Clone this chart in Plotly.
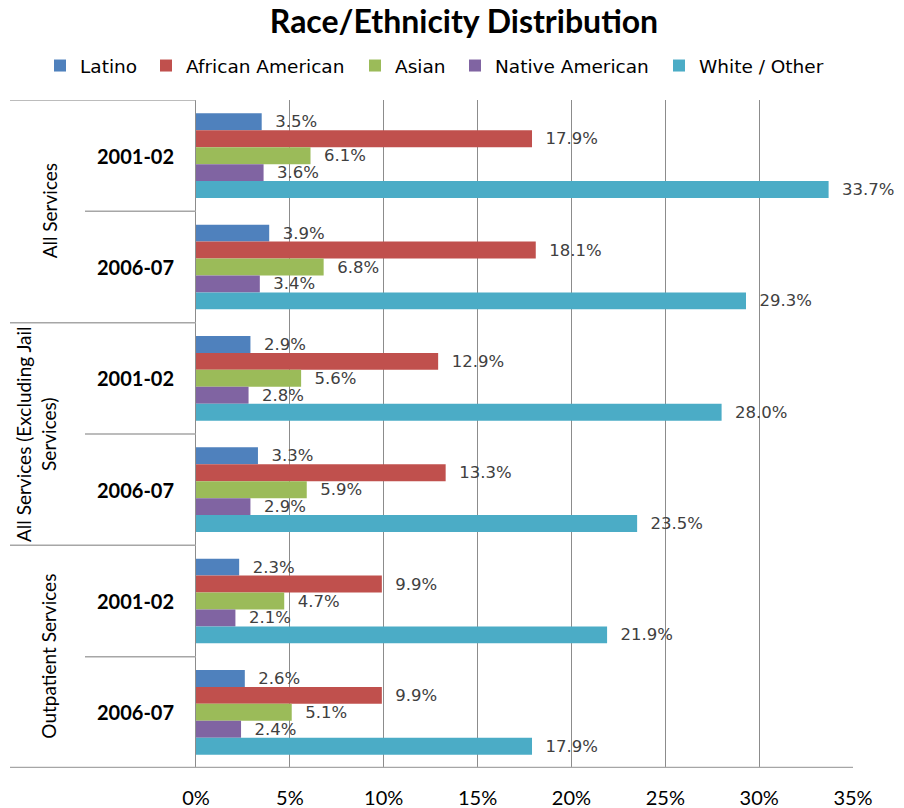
import plotly.graph_objects as go

# data
groups = ["All Services", "All Services (Excluding Jail<br>Services)", "Outpatient Services"]
periods = ["2001-02", "2006-07"]
series_names = ["Latino", "African American", "Asian", "Native American", "White / Other"]
series_colors = ["#4F81BD", "#C0504D", "#9BBB59", "#8064A2", "#4BACC6"]

latino = [3.5, 3.9, 2.9, 3.3, 2.3, 2.6]
african_american = [17.9, 18.1, 12.9, 13.3, 9.9, 9.9]
asian = [6.1, 6.8, 5.6, 5.9, 4.7, 5.1]
native_american = [3.6, 3.4, 2.8, 2.9, 2.1, 2.4]
white_other = [33.7, 29.3, 28.0, 23.5, 21.9, 17.9]

tick_vals = [0, 5, 10, 15, 20, 25, 30, 35]

W, H = 904, 808
L, R, T, B = 196, 853, 100, 768

# where each legend entry's text starts (px), one legend per series
legend_text_x = [78, 184, 393, 493, 697]

categories = [f"{g}|{p}" for g in groups for p in periods]
values = [latino, african_american, asian, native_american, white_other]


def px_x(px):
    """Pixel column -> paper x."""
    return (px - L) / (R - L)


fig = go.Figure()

for i, (name, color, vals) in enumerate(zip(series_names, series_colors, values)):
    fig.add_trace(
        go.Bar(
            y=categories,
            x=vals,
            orientation="h",
            name=name,
            legend="legend" if i == 0 else f"legend{i + 1}",
            marker=dict(color=color, line=dict(width=0)),
            texttemplate="\u00a0\u00a0%{x:.1f}%",
            textposition="outside",
            constraintext="none",
            cliponaxis=False,
            textfont=dict(family="DejaVu Sans", size=16.5, color="#404040"),
            hoverinfo="skip",
        )
    )

# period labels + group labels on the left
for cat in categories:
    fig.add_annotation(
        x=px_x(135), y=cat, xref="paper", yref="y",
        xanchor="center", yanchor="middle",
        text=f"<b>{cat.split('|')[1]}</b>", showarrow=False,
        font=dict(family="Lato", size=20, color="#000000"),
    )

for gi, g in enumerate(groups):
    fig.add_annotation(
        x=px_x(36 if "<br>" in g else 49), y=gi * 2 + 0.5, xref="paper", yref="y",
        xanchor="center", yanchor="middle",
        text=g, showarrow=False, textangle=-90,
        font=dict(family="Lato", size=19, color="#000000"),
    )

# separator lines in the category area
line_col = "#A6A6A6"
for yb in [-0.5, 1.5, 3.5]:
    fig.add_shape(type="line", xref="paper", yref="y",
                  x0=px_x(10), x1=0, y0=yb, y1=yb,
                  line=dict(color=line_col, width=1.5))
for yb in [0.5, 2.5, 4.5]:
    fig.add_shape(type="line", xref="paper", yref="y",
                  x0=px_x(85), x1=0, y0=yb, y1=yb,
                  line=dict(color=line_col, width=1.5))
# long bottom axis line
fig.add_shape(type="line", xref="paper", yref="y",
              x0=px_x(10), x1=1, y0=5.5, y1=5.5,
              line=dict(color=line_col, width=2.5))

legends = {}
for i, tx in enumerate(legend_text_x):
    key = "legend" if i == 0 else f"legend{i + 1}"
    legends[key] = dict(
        orientation="h",
        x=(tx - 38) / W, xref="container", xanchor="left",
        y=1 - 66 / H, yref="container", yanchor="middle",
        font=dict(family="DejaVu Sans", size=18.5, color="#000000"),
        itemwidth=30,
        bgcolor="rgba(0,0,0,0)",
    )

fig.update_layout(
    width=W,
    height=H,
    margin=dict(l=L, r=W - R, t=T, b=H - B, autoexpand=False),
    paper_bgcolor="white",
    plot_bgcolor="white",
    barmode="group",
    bargap=0.24,
    bargroupgap=0,
    title=dict(
        text="<b>Race/Ethnicity Distribution</b>",
        x=464 / W, xref="container", xanchor="center",
        y=1 - 22 / H, yref="container", yanchor="middle",
        font=dict(family="Lato", size=32, color="#000000"),
    ),
    xaxis=dict(
        range=[0, 35],
        tickvals=tick_vals,
        ticktext=[f"{v}%" for v in tick_vals],
        showgrid=True,
        gridcolor="#8C8C8C",
        gridwidth=1,
        zeroline=False,
        showline=False,
        ticks="",
        ticklabelstandoff=16,
        tickfont=dict(family="Lato", size=20, color="#000000"),
        automargin=False,
        fixedrange=True,
    ),
    yaxis=dict(
        categoryorder="array",
        categoryarray=categories,
        range=[5.5, -0.5],
        showticklabels=False,
        showgrid=False,
        zeroline=False,
        showline=True,
        linecolor="#8C8C8C",
        linewidth=1,
        ticks="",
        automargin=False,
        fixedrange=True,
    ),
    showlegend=True,
    **legends,
)

# drop the default page margin so the figure sits at the window's top-left
fig.write_html(
    "out.html",
    config={"displayModeBar": False},
    post_script="document.body.style.margin='0';",
)
